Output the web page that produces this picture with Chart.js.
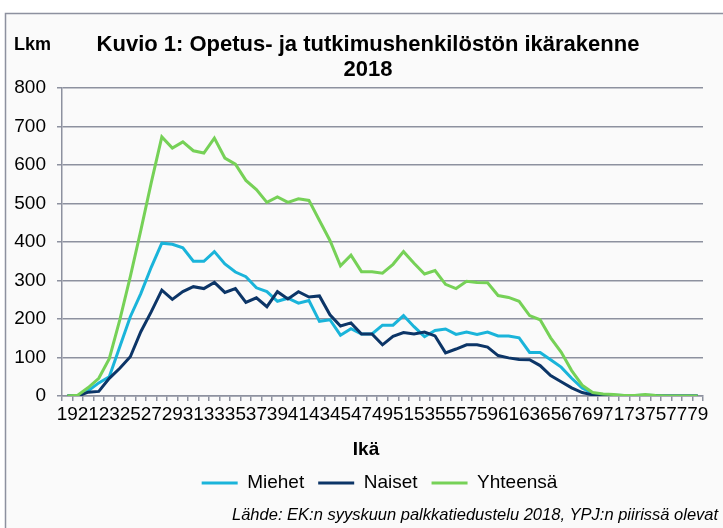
<!DOCTYPE html>
<html lang="fi">
<head>
<meta charset="utf-8">
<title>Kuvio 1: Opetus- ja tutkimushenkilöstön ikärakenne 2018</title>
<script src="https://cdn.jsdelivr.net/npm/chart.js@4/dist/chart.umd.min.js"></script>
<style>
  html, body { margin: 0; padding: 0; background: #ffffff; }
  #wrap { width: 723px; height: 528px; }
</style>
</head>
<body>
<div id="wrap"><canvas id="ageChart" width="723" height="528"></canvas></div>
<script>
// =========================
// Data
// =========================
const ages = [
  "19", "20", "21", "22", "23", "24", "25", "26", "27", "28",
  "29", "30", "31", "32", "33", "34", "35", "36", "37", "38",
  "39", "40", "41", "42", "43", "44", "45", "46", "47", "48",
  "49", "50", "51", "52", "53", "54", "55", "56", "57", "58",
  "59", "60", "61", "62", "63", "64", "65", "66", "67", "68",
  "69", "70", "71", "72", "73", "74", "75", "76", "77", "78",
  "79",
];

const miehet = [
  0, 0, 14, 34, 50, 128, 206, 266, 335, 397,
  394, 385, 350, 350, 375, 343, 322, 310, 281, 271,
  246, 254, 241, 248, 194, 198, 158, 175, 161, 161,
  184, 184, 209, 180, 154, 170, 174, 160, 166, 160,
  166, 156, 156, 151, 113, 113, 94, 75, 46, 21,
  7, 3, 2, 1, 1, 2, 1, 0, 0, 0,
  0,
];

const naiset = [
  0, 0, 10, 12, 46, 72, 102, 167, 219, 275,
  251, 271, 284, 279, 295, 269, 279, 243, 255, 232,
  271, 252, 271, 257, 260, 211, 182, 190, 161, 161,
  133, 155, 165, 161, 166, 156, 112, 122, 133, 133,
  127, 105, 99, 95, 94, 79, 53, 37, 21, 9,
  3, 1, 1, 0, 0, 1, 0, 0, 0, 0,
  0,
];

const yhteensa = [
  0, 2, 22, 46, 97, 198, 310, 430, 555, 673,
  644, 660, 637, 631, 670, 618, 602, 560, 536, 503,
  517, 503, 512, 508, 456, 404, 338, 366, 323, 323,
  319, 342, 375, 345, 317, 326, 290, 279, 298, 295,
  294, 261, 256, 246, 209, 198, 151, 114, 66, 28,
  9, 5, 4, 1, 1, 4, 1, 0, 0, 0,
  0,
];

const seriesNames = ["Miehet", "Naiset", "Yhteensä"];
const seriesColors = ["#1ab4da", "#0c3567", "#76d157"];

const yMin = 0;
const yMax = 800;
const yStep = 100;

// =========================
// Style
// =========================
const FONT = "'Liberation Sans', Arial, sans-serif";
const GRID = "#8d919f";

Chart.defaults.font.family = FONT;
Chart.defaults.color = "#000000";

// =========================
// Frame + loose texts (Lkm, title, Ikä, source)
// =========================
const frameAndText = {
  id: "frameAndText",
  afterLayout(chart) {
    // legend sits centred under the plot, not under the whole canvas
    if (chart.legend) chart.legend.left = 56;
  },
  beforeDraw(chart) {
    const ctx = chart.ctx;
    ctx.save();
    ctx.fillStyle = "#ffffff";
    ctx.fillRect(0, 0, chart.width, chart.height);
    ctx.fillStyle = "#fafafa";
    ctx.fillRect(5, 13, chart.width, chart.height);
    ctx.strokeStyle = GRID;
    ctx.lineWidth = 1.5;
    ctx.beginPath();
    ctx.moveTo(5.5, chart.height + 2);
    ctx.lineTo(5.5, 13.5);
    ctx.lineTo(chart.width + 2, 13.5);
    ctx.stroke();
    ctx.restore();
  },
  afterDraw(chart) {
    const ctx = chart.ctx;
    ctx.save();
    ctx.fillStyle = "#000000";
    ctx.textBaseline = "middle";

    // y-axis unit
    ctx.font = "bold 18px " + FONT;
    ctx.textAlign = "left";
    ctx.fillText("Lkm", 14, 45);

    // title
    ctx.font = "bold 22px " + FONT;
    ctx.textAlign = "center";
    ctx.fillText("Kuvio 1: Opetus- ja tutkimushenkilöstön ikärakenne", 368, 45);
    ctx.fillText("2018", 368, 70);

    // x-axis title
    ctx.font = "bold 19px " + FONT;
    ctx.fillText("Ikä", 366, 450);

    // source
    ctx.font = "italic 16.5px " + FONT;
    ctx.textAlign = "left";
    ctx.fillText("Lähde: EK:n syyskuun palkkatiedustelu 2018, YPJ:n piirissä olevat", 232, 515);
    ctx.restore();
  },
};

// =========================
// Line chart
// =========================
const seriesData = [miehet, naiset, yhteensa];

new Chart(document.getElementById("ageChart"), {
  type: "line",
  data: {
    labels: ages,
    datasets: seriesNames.map((name, i) => ({
      label: name,
      data: seriesData[i],
      borderColor: seriesColors[i],
      backgroundColor: seriesColors[i],
      borderWidth: 3,
      pointRadius: 0,
      tension: 0,
      fill: false,
      order: seriesNames.length - 1 - i, // last series on top, like Excel
    })),
  },
  options: {
    responsive: false,
    animation: false,
    layout: { padding: { top: 88, left: 0, right: 20, bottom: 25.5 } },
    plugins: {
      title: { display: false },
      tooltip: { enabled: false },
      legend: {
        position: "bottom",
        labels: {
          usePointStyle: true,
          pointStyle: "line",
          pointStyleWidth: 36,
          padding: 14,
          color: "#000000",
          font: { size: 19, family: FONT },
          sort: (a, b) => a.datasetIndex - b.datasetIndex,
        },
      },
    },
    scales: {
      x: {
        offset: true,
        afterFit: (scale) => { scale.height = 63.5; },
        grid: {
          offset: true,
          drawOnChartArea: false,
          drawTicks: true,
          tickLength: 5,
          color: GRID,
          lineWidth: 1.5,
        },
        border: { display: true, color: GRID, width: 1.5 },
        ticks: {
          autoSkip: false,
          maxRotation: 0,
          minRotation: 0,
          padding: 2,
          font: { size: 19 },
          color: "#000000",
          callback: (value, index) => (index % 2 === 0 ? ages[index] : ""),
        },
      },
      y: {
        min: yMin,
        max: yMax,
        afterFit: (scale) => { scale.width = 62; },
        grid: {
          color: GRID,
          lineWidth: 1.5,
          drawTicks: true,
          tickLength: 5,
        },
        border: { display: true, color: GRID, width: 1.5 },
        ticks: {
          stepSize: yStep,
          padding: 11,
          font: { size: 19 },
          color: "#000000",
        },
      },
    },
  },
  plugins: [frameAndText],
});
</script>
</body>
</html>
